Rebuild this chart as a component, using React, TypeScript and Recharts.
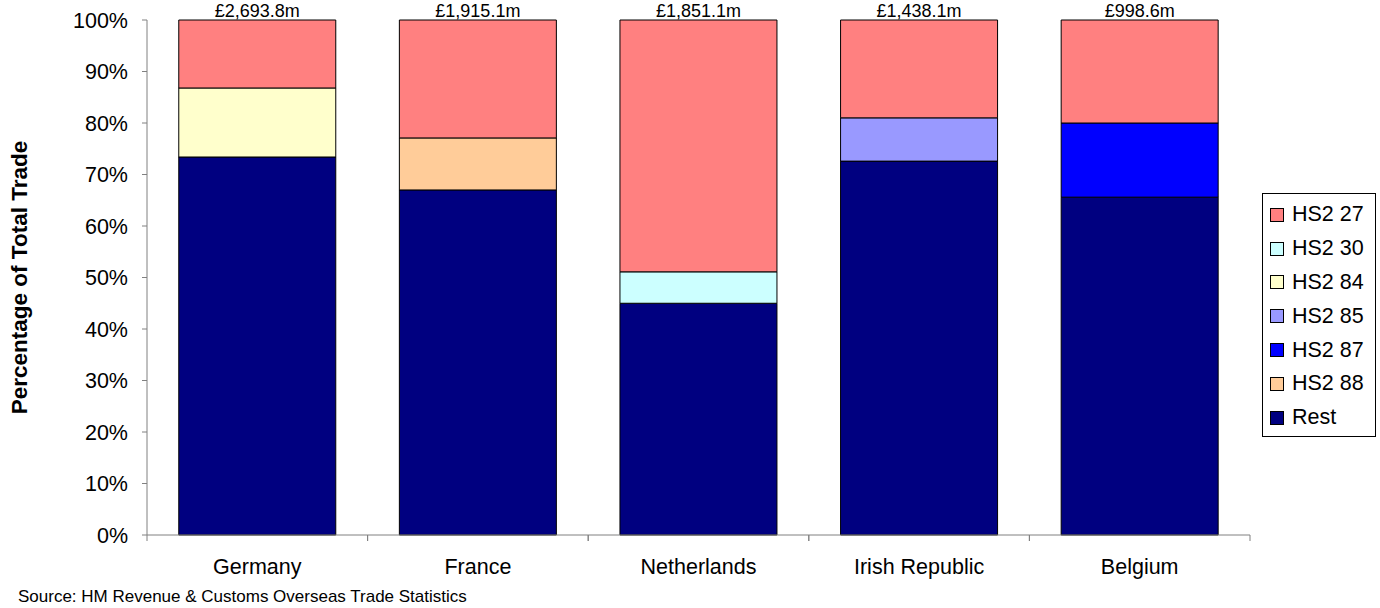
import React from "react";
import {
  BarChart,
  Bar,
  XAxis,
  YAxis,
  Legend,
  LabelList,
} from "recharts";

const countries = ["Germany", "France", "Netherlands", "Irish Republic", "Belgium"];
// total trade per country, £ million
const totals = [2693.8, 1915.1, 1851.1, 1438.1, 998.6];

// share of total trade (%) by HS2 chapter
const hs27 = [13.2, 22.9, 48.9, 19.0, 20.0];
const hs30 = [0, 0, 6.1, 0, 0];
const hs84 = [13.4, 0, 0, 0, 0];
const hs85 = [0, 0, 0, 8.4, 0];
const hs87 = [0, 0, 0, 0, 14.4];
const hs88 = [0, 10.1, 0, 0, 0];
const rest = [73.4, 67.0, 45.0, 72.6, 65.6];

const yTicks = [0, 10, 20, 30, 40, 50, 60, 70, 80, 90, 100];

// stacking order, bottom first
const series = [
  { key: "rest", name: "Rest", color: "#000080" },
  { key: "hs30", name: "HS2 30", color: "#CCFFFF" },
  { key: "hs84", name: "HS2 84", color: "#FFFFCC" },
  { key: "hs85", name: "HS2 85", color: "#9999FF" },
  { key: "hs87", name: "HS2 87", color: "#0000FF" },
  { key: "hs88", name: "HS2 88", color: "#FFCC99" },
  { key: "hs27", name: "HS2 27", color: "#FF8080" },
];

// legend reads top to bottom in a different order
const legendOrder = ["hs27", "hs30", "hs84", "hs85", "hs87", "hs88", "rest"];

const data = countries.map((country, i) => ({
  country,
  total: totals[i],
  hs27: hs27[i],
  hs30: hs30[i],
  hs84: hs84[i],
  hs85: hs85[i],
  hs87: hs87[i],
  hs88: hs88[i],
  rest: rest[i],
}));

const FONT = "'Liberation Sans', Arial, sans-serif";
const AXIS_GREY = "#808080";

const formatTotal = (v: any) =>
  `£${Number(v).toLocaleString("en-GB", { minimumFractionDigits: 1, maximumFractionDigits: 1 })}m`;

// category label plus tick marks at the band edges
const CountryTick = (props: any) => {
  const { x, y, payload } = props;
  const half = payload?.offset ?? 110;
  return (
    <g>
      <line x1={x - half} y1={y - 6} x2={x - half} y2={y} stroke={AXIS_GREY} />
      <line x1={x + half} y1={y - 6} x2={x + half} y2={y} stroke={AXIS_GREY} />
      <text x={x} y={y + 33} textAnchor="middle" fill="#000" fontSize={21.5} fontFamily={FONT}>
        {payload.value}
      </text>
    </g>
  );
};

const YTitle = (props: any) => {
  const vb = props.viewBox || { x: 0, y: 20, height: 515 };
  const cx = vb.x + 19;
  const cy = vb.y + vb.height / 2;
  return (
    <text
      x={cx}
      y={cy}
      transform={`rotate(-90 ${cx} ${cy})`}
      textAnchor="middle"
      dominantBaseline="central"
      fontSize={22.5}
      fontWeight="bold"
      fontFamily={FONT}
      fill="#000"
    >
      Percentage of Total Trade
    </text>
  );
};

const LegendBox = () => (
  <div
    style={{
      border: "1px solid #000",
      background: "#fff",
      boxSizing: "border-box",
      width: 114,
      height: 244,
      padding: "4px 0 0 7px",
      fontFamily: FONT,
      fontSize: 21.5,
      color: "#000",
    }}
  >
    {legendOrder.map((k) => {
      const s = series.find((d) => d.key === k)!;
      return (
        <div key={k} style={{ display: "flex", alignItems: "center", height: 33.8 }}>
          <span
            style={{
              display: "inline-block",
              width: 12,
              height: 12,
              background: s.color,
              border: "1px solid #000",
              marginRight: 8,
            }}
          />
          {s.name}
        </div>
      );
    })}
  </div>
);

export default function App() {
  return (
    <div style={{ position: "absolute", left: 0, top: 0, width: 1380, height: 608, background: "#fff" }}>
      <BarChart
        width={1380}
        height={608}
        data={data}
        margin={{ top: 20, right: 130, bottom: 0, left: 0 }}
        barCategoryGap="14.4%"
      >
        <XAxis
          dataKey="country"
          height={73}
          axisLine={{ stroke: AXIS_GREY }}
          tickLine={false}
          tickSize={6}
          tickMargin={0}
          tick={<CountryTick />}
          interval={0}
        />
        <YAxis
          width={147}
          domain={[0, 100]}
          ticks={yTicks}
          tickFormatter={(v) => `${v}%`}
          axisLine={{ stroke: AXIS_GREY }}
          tickLine={{ stroke: AXIS_GREY }}
          tickSize={5}
          tickMargin={14}
          tick={{ fill: "#000", fontSize: 21.5, fontFamily: FONT }}
          label={<YTitle />}
        />
        <Legend
          layout="horizontal"
          align="center"
          verticalAlign="middle"
          content={() => <LegendBox />}
          wrapperStyle={{ left: 1262, top: 193, width: 114, height: 244 }}
        />
        {series.map((s) => (
          <Bar
            key={s.key}
            dataKey={s.key}
            name={s.name}
            stackId="trade"
            fill={s.color}
            stroke="#000"
            strokeWidth={1}
            isAnimationActive={false}
          >
            {s.key === "hs27" && (
              <LabelList
                dataKey="total"
                position="top"
                offset={3}
                formatter={formatTotal}
                fill="#000"
                fontSize={18}
                fontFamily={FONT}
              />
            )}
          </Bar>
        ))}
      </BarChart>
      <div
        style={{
          position: "absolute",
          left: 18,
          top: 587,
          fontFamily: FONT,
          fontSize: 17,
          lineHeight: "20px",
          color: "#000",
          whiteSpace: "nowrap",
        }}
      >
        Source: HM Revenue &amp; Customs Overseas Trade Statistics
      </div>
    </div>
  );
}
